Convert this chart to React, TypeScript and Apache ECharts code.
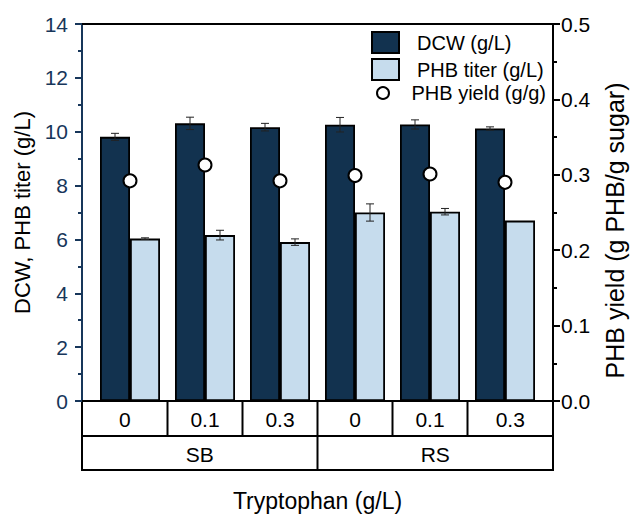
import React, { useEffect, useRef } from "react";
import * as echarts from "echarts";

const tryptophan = ["0", "0.1", "0.3", "0", "0.1", "0.3"];
const media = ["SB", "RS"];
const groupSize = 3;
const dcw = [9.81, 10.31, 10.17, 10.26, 10.27, 10.12];
const dcwErr = [0.13, 0.23, 0.14, 0.27, 0.17, 0.06];
const phb = [6.03, 6.16, 5.9, 7.0, 7.03, 6.7];
const phbErr = [0.03, 0.18, 0.12, 0.32, 0.12, 0];
const yieldVals = [0.292, 0.313, 0.292, 0.299, 0.301, 0.29];
const seriesNames = ["DCW (g/L)", "PHB titer (g/L)", "PHB yield (g/g)"];
const rightTitle = "PHB yield (g PHB/g sugar)";

const FONT = "'Liberation Sans', Arial, sans-serif";
const DARK = "#12324f";
const LIGHT = "#c6dced";
const NAVY = "#17365a";
const BAR_W = 30;
const X_MIN = -0.64;
const X_MAX = 5.64;

export default function App() {
  const ref = useRef<HTMLDivElement>(null);
  useEffect(() => {
    document.body.style.margin = "0";
    const chart = echarts.init(ref.current!, null, { renderer: "svg" });

    const errRender = (side: number) => (params: any, api: any) => {
      const x = api.value(0);
      const v = api.value(1);
      const e = api.value(2);
      if (!e) return null;
      const top = api.coord([x, v + e]);
      const bot = api.coord([x, v - e]);
      const cx = top[0] + (side * BAR_W) / 2;
      const cap = 4;
      const style = { stroke: "#222", lineWidth: 1 };
      return {
        type: "group",
        children: [
          { type: "line", shape: { x1: cx, y1: top[1], x2: cx, y2: bot[1] }, style },
          { type: "line", shape: { x1: cx - cap, y1: top[1], x2: cx + cap, y2: top[1] }, style },
          { type: "line", shape: { x1: cx - cap, y1: bot[1], x2: cx + cap, y2: bot[1] }, style },
        ],
      };
    };

    const legendText = { fontSize: 20, color: "#000", fontFamily: FONT };

    const option: any = {
      animation: false,
      grid: { left: 82, right: 77, top: 24, bottom: 113, containLabel: false },
      legend: [
        {
          data: [
            { name: seriesNames[0], icon: "rect" },
            { name: seriesNames[1], icon: "rect" },
          ],
          orient: "vertical",
          left: 371,
          top: 31,
          padding: 0,
          itemWidth: 27,
          itemHeight: 21,
          itemGap: 4,
          selectedMode: false,
          formatter: (n: string) => "{t|" + n + "}",
          textStyle: { ...legendText, rich: { t: { ...legendText, padding: [0, 0, 0, 13] } } },
        },
        {
          data: [{ name: seriesNames[2], icon: "circle" }],
          orient: "vertical",
          left: 376,
          top: 83,
          padding: 0,
          itemWidth: 27,
          itemHeight: 12,
          selectedMode: false,
          formatter: (n: string) => "{t|" + n + "}",
          textStyle: { ...legendText, rich: { t: { ...legendText, padding: [0, 0, 0, 10] } } },
        },
      ],
      xAxis: [
        {
          type: "value",
          min: X_MIN,
          max: X_MAX,
          axisLine: { show: true, onZero: false, lineStyle: { color: "#000", width: 2 } },
          axisTick: { show: false },
          axisLabel: { show: false },
          splitLine: { show: false },
          name: "Tryptophan (g/L)",
          nameLocation: "middle",
          nameGap: 88,
          nameTextStyle: { fontSize: 23, color: "#000", fontFamily: FONT },
        },
        {
          type: "value",
          position: "top",
          min: X_MIN,
          max: X_MAX,
          axisLine: { show: true, onZero: false, lineStyle: { color: "#000", width: 2 } },
          axisTick: { show: false },
          axisLabel: { show: false },
          splitLine: { show: false },
        },
      ],
      yAxis: [
        {
          type: "value",
          position: "left",
          min: 0,
          max: 14,
          interval: 2,
          axisLine: { show: true, onZero: false, lineStyle: { color: NAVY, width: 2 } },
          axisTick: { show: true, inside: false, length: 7, lineStyle: { color: NAVY, width: 2 } },
          minorTick: { show: true, splitNumber: 2, length: 4, lineStyle: { color: NAVY, width: 2 } },
          axisLabel: { color: NAVY, fontSize: 21, margin: 14, fontFamily: FONT },
          splitLine: { show: false },
          name: "DCW, PHB titer (g/L)",
          nameLocation: "middle",
          nameRotate: 90,
          nameGap: 44,
          nameTextStyle: { fontSize: 22, color: "#000", fontFamily: FONT },
        },
        {
          type: "value",
          position: "right",
          min: 0,
          max: 0.5,
          interval: 0.1,
          axisLine: { show: true, onZero: false, lineStyle: { color: "#000", width: 2 } },
          axisTick: { show: true, inside: false, length: 7, lineStyle: { color: "#000", width: 2 } },
          minorTick: { show: true, splitNumber: 2, length: 4, lineStyle: { color: "#000", width: 2 } },
          axisLabel: {
            color: "#000",
            fontSize: 21,
            margin: 8,
            fontFamily: FONT,
            formatter: (v: number) => v.toFixed(1),
          },
          splitLine: { show: false },
        },
      ],
      series: [
        {
          name: seriesNames[0],
          type: "bar",
          barWidth: BAR_W,
          barGap: "0%",
          data: dcw.map((v, i) => [i, v]),
          itemStyle: { color: DARK, borderColor: "#000", borderWidth: 1.8 },
        },
        {
          name: seriesNames[1],
          type: "bar",
          barWidth: BAR_W,
          barGap: "0%",
          data: phb.map((v, i) => [i, v]),
          itemStyle: { color: LIGHT, borderColor: "#000", borderWidth: 1.8 },
        },
        {
          type: "custom",
          renderItem: errRender(-1),
          encode: { x: 0, y: 1 },
          data: dcw.map((v, i) => [i, v, dcwErr[i]]),
          z: 4,
        },
        {
          type: "custom",
          renderItem: errRender(1),
          encode: { x: 0, y: 1 },
          data: phb.map((v, i) => [i, v, phbErr[i]]),
          z: 4,
        },
        {
          name: seriesNames[2],
          type: "scatter",
          yAxisIndex: 1,
          symbol: "circle",
          symbolSize: 13,
          data: yieldVals.map((v, i) => [i, v]),
          itemStyle: { color: "#fff", borderColor: "#000", borderWidth: 2, opacity: 1 },
          z: 5,
        },
      ],
    };
    chart.setOption(option);

    // Category table under the plot + right axis title
    const px = (x: number) => chart.convertToPixel({ xAxisIndex: 0 }, x) as number;
    const py = (y: number) => chart.convertToPixel({ yAxisIndex: 0 }, y) as number;
    const left = px(X_MIN);
    const right = px(X_MAX);
    const y0 = py(0);
    const yTop = py(14);
    const row1 = 35;
    const row2 = 34;
    const n = tryptophan.length;
    const bound = (k: number) => (k <= 0 ? left : k >= n ? right : px(k - 0.5));
    const txt = (x: number, y: number, text: string) => ({
      type: "text",
      x,
      y,
      style: {
        text,
        fill: "#000",
        fontSize: 21,
        fontFamily: FONT,
        align: "center",
        verticalAlign: "middle",
      },
    });
    const els: any[] = [
      {
        type: "rect",
        shape: { x: left, y: y0, width: right - left, height: row1 + row2 },
        style: { fill: "none", stroke: "#000", lineWidth: 2 },
      },
      {
        type: "line",
        shape: { x1: left, y1: y0 + row1, x2: right, y2: y0 + row1 },
        style: { stroke: "#000", lineWidth: 2 },
      },
      {
        type: "text",
        x: right + 62,
        y: (y0 + yTop) / 2 + 18,
        rotation: Math.PI / 2,
        style: {
          text: rightTitle,
          fill: "#000",
          fontSize: 25,
          fontFamily: FONT,
          align: "center",
          verticalAlign: "middle",
        },
      },
    ];
    for (let k = 1; k < n; k++) {
      const full = k % groupSize === 0;
      els.push({
        type: "line",
        shape: { x1: bound(k), y1: y0, x2: bound(k), y2: y0 + row1 + (full ? row2 : 0) },
        style: { stroke: "#000", lineWidth: 2 },
      });
    }
    tryptophan.forEach((t, i) => {
      els.push(txt((bound(i) + bound(i + 1)) / 2, y0 + row1 / 2 + 1, t));
    });
    media.forEach((m, g) => {
      const a = bound(g * groupSize);
      const b = bound((g + 1) * groupSize);
      els.push(txt((a + b) / 2, y0 + row1 + row2 / 2 + 1, m));
    });
    chart.setOption({ graphic: { elements: els } });

    return () => chart.dispose();
  }, []);
  return <div ref={ref} style={{ width: 630, height: 517 }} />;
}
